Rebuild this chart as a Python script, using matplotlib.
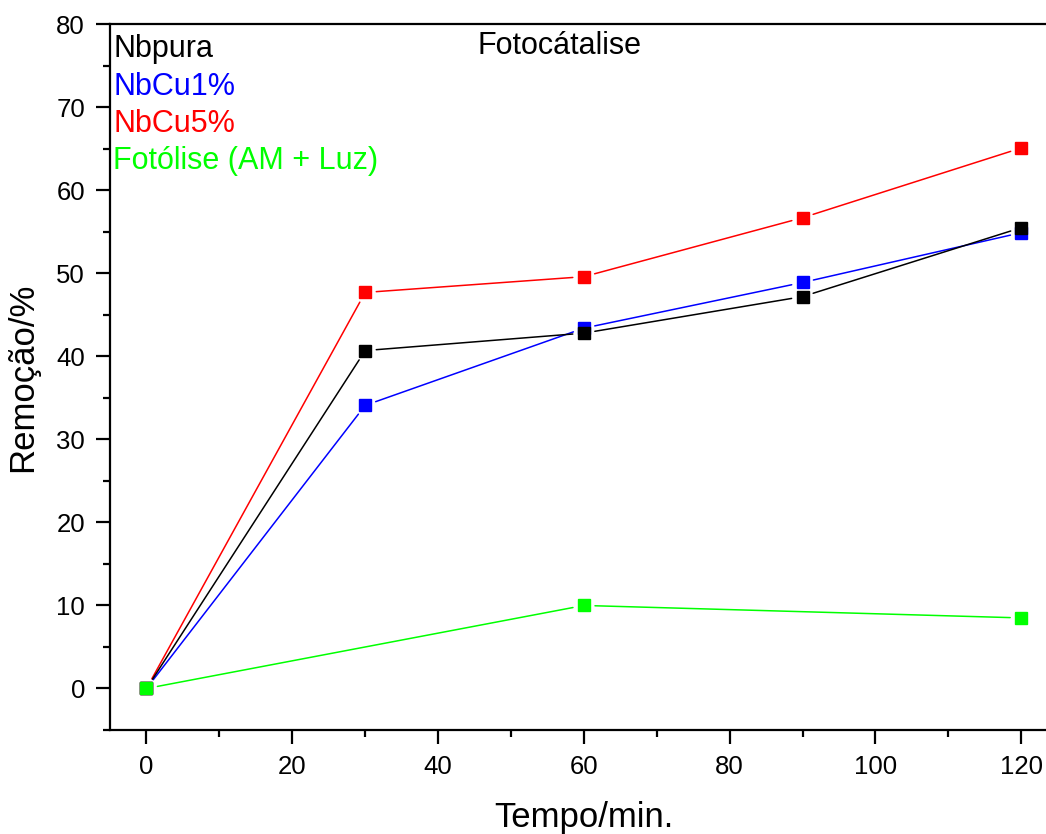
import numpy as np
import matplotlib.pyplot as plt
from matplotlib.ticker import MultipleLocator

plt.rcParams['font.family'] = ['Liberation Sans', 'DejaVu Sans']

tempo = [0, 30, 60, 90, 120]
nbpura = [0, 40.7, 42.8, 47.2, 55.5]
nbcu1 = [0, 34.1, 43.4, 48.9, 54.9]
nbcu5 = [0, 47.7, 49.6, 56.7, 65.1]
tempo_fot = [0, 60, 120]
fotolise = [0, 10.0, 8.5]

series = [
    ("Nbpura", tempo, nbpura, "#000000"),
    ("NbCu1%", tempo, nbcu1, "#0000ff"),
    ("NbCu5%", tempo, nbcu5, "#ff0000"),
    ("Fotólise (AM + Luz)", tempo_fot, fotolise, "#00ff00"),
]
draw_order = [1, 2, 0, 3]

fig = plt.figure(figsize=(10.46, 8.34), dpi=100)
ax = fig.add_axes([0.1052, 0.1247, 0.906, 0.8462])
ax.set_xlim(-5, 125)
ax.set_ylim(-5, 80)

handles = {}
for i in draw_order:
    name, x, y, c = series[i]
    # line segments with a gap around the markers (Origin style)
    for k in range(len(x) - 1):
        ax.annotate("", xy=(x[k + 1], y[k + 1]), xytext=(x[k], y[k]),
                    arrowprops=dict(arrowstyle="-", color=c, lw=1.1,
                                    shrinkA=8, shrinkB=8),
                    zorder=2)
    h, = ax.plot(x, y, ls="none", marker="s", ms=9, color=c, mec=c,
                 zorder=4, label=name)
    handles[i] = h

leg = ax.legend([handles[i] for i in range(4)], [s[0] for s in series],
                loc="upper left", bbox_to_anchor=(-0.011, 1.005), frameon=False,
                handlelength=0, handletextpad=0, labelcolor="linecolor",
                fontsize=22, labelspacing=0.24, borderaxespad=0.05)
for h in leg.legend_handles:
    h.set_visible(False)

ax.text(0.474, 0.99, "Fotocátalise", transform=ax.transAxes,
        ha="center", va="top", fontsize=22)

ax.xaxis.set_major_locator(MultipleLocator(20))
ax.xaxis.set_minor_locator(MultipleLocator(10))
ax.yaxis.set_major_locator(MultipleLocator(10))
ax.yaxis.set_minor_locator(MultipleLocator(5))
ax.tick_params(which="major", direction="out", length=10, width=1.6,
               labelsize=18.5, pad=8)
ax.tick_params(which="minor", direction="out", length=5, width=1.6)
for sp in ax.spines.values():
    sp.set_linewidth(1.6)

ax.set_xlabel("Tempo/min.", fontsize=25, labelpad=16)
ax.set_ylabel("Remoção/%", fontsize=25, labelpad=12)

fig.savefig("out.png", dpi=100)
